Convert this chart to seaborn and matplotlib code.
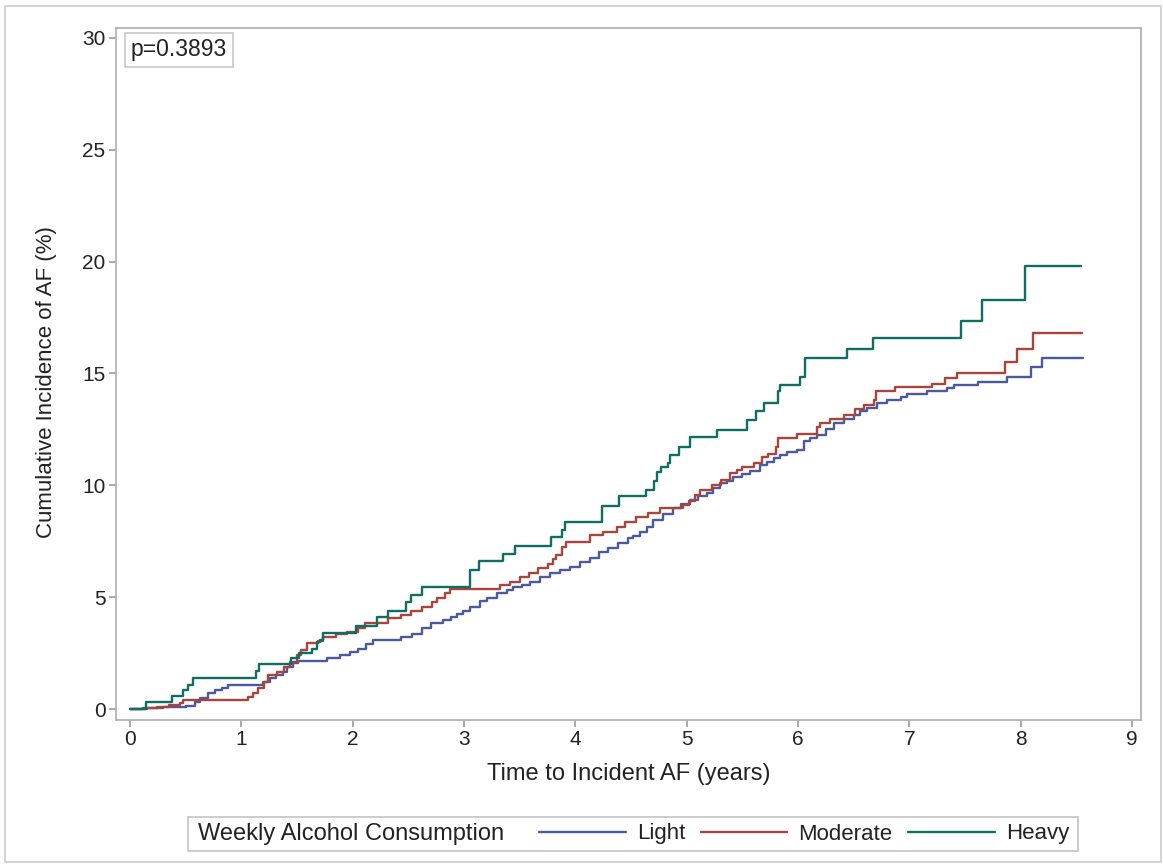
import matplotlib
matplotlib.use("Agg")
import matplotlib.pyplot as plt
from matplotlib.patches import Rectangle
import numpy as np
import pandas as pd
import seaborn as sns

# Kaplan-Meier style cumulative incidence (%) by weekly alcohol consumption
light_t = [0, 0.12, 0.3, 0.5, 0.58, 0.63, 0.7, 0.76, 0.83, 0.88, 1.19, 1.26, 1.31, 1.37,
           1.41, 1.46, 1.51, 1.77, 1.89, 1.98, 2.05, 2.12, 2.18, 2.43, 2.53, 2.62, 2.7,
           2.81, 2.88, 2.94, 2.99, 3.05, 3.14, 3.21, 3.3, 3.39, 3.44, 3.52, 3.59, 3.68,
           3.77, 3.86, 3.95, 4.04, 4.13, 4.21, 4.29, 4.38, 4.47, 4.52, 4.58, 4.64, 4.7,
           4.79, 4.88, 4.95, 5.03, 5.1, 5.18, 5.24, 5.3, 5.36, 5.42, 5.5, 5.57, 5.66,
           5.72, 5.78, 5.84, 5.9, 5.99, 6.05, 6.11, 6.17, 6.25, 6.32, 6.41, 6.5, 6.56,
           6.62, 6.71, 6.8, 6.92, 6.98, 7.16, 7.34, 7.4, 7.62, 7.88, 8.09, 8.19, 8.56]
light_v = [0, 0.05, 0.1, 0.15, 0.3, 0.5, 0.7, 0.85, 0.95, 1.07, 1.2, 1.38, 1.52, 1.65,
           1.88, 2.05, 2.15, 2.28, 2.4, 2.55, 2.7, 2.9, 3.1, 3.2, 3.35, 3.6, 3.85,
           4.0, 4.1, 4.25, 4.4, 4.55, 4.85, 4.95, 5.2, 5.3, 5.45, 5.55, 5.7, 5.9,
           6.1, 6.2, 6.35, 6.55, 6.75, 7.0, 7.2, 7.4, 7.65, 7.75, 7.9, 8.15, 8.45,
           8.7, 9.0, 9.15, 9.35, 9.5, 9.65, 9.9, 10.1, 10.2, 10.35, 10.5, 10.65, 10.9,
           11.05, 11.2, 11.35, 11.5, 11.6, 12.0, 12.1, 12.25, 12.5, 12.8, 12.95, 13.15, 13.3,
           13.45, 13.7, 13.8, 13.95, 14.1, 14.2, 14.35, 14.5, 14.6, 14.85, 15.3, 15.7, 15.7]

moderate_t = [0, 0.15, 0.24, 0.35, 0.45, 0.48, 1.06, 1.1, 1.15, 1.2, 1.24, 1.32, 1.38,
              1.44, 1.5, 1.54, 1.59, 1.69, 1.73, 1.85, 1.95, 2.05, 2.11, 2.32, 2.43,
              2.52, 2.62, 2.71, 2.76, 2.83, 2.87, 3.32, 3.41, 3.5, 3.58, 3.66, 3.75,
              3.8, 3.83, 3.88, 3.92, 4.13, 4.25, 4.37, 4.45, 4.54, 4.65, 4.76, 4.97,
              5.02, 5.07, 5.12, 5.23, 5.31, 5.39, 5.45, 5.5, 5.6, 5.68, 5.73, 5.8, 5.82,
              5.99, 6.17, 6.2, 6.29, 6.41, 6.51, 6.59, 6.68, 6.7, 6.87, 7.2, 7.32, 7.43,
              7.86, 7.97, 8.11, 8.55]
moderate_v = [0, 0.05, 0.1, 0.2, 0.27, 0.4, 0.55, 0.7, 0.95, 1.2, 1.5, 1.65, 1.9,
              2.1, 2.4, 2.65, 2.95, 3.05, 3.2, 3.35, 3.45, 3.6, 3.85, 4.05, 4.2,
              4.4, 4.55, 4.8, 4.95, 5.2, 5.35, 5.55, 5.7, 5.9, 6.1, 6.3, 6.5,
              6.7, 6.9, 7.25, 7.45, 7.8, 7.9, 8.15, 8.35, 8.6, 8.75, 9.0, 9.1,
              9.3, 9.55, 9.8, 10.0, 10.25, 10.55, 10.7, 10.8, 11.0, 11.25, 11.4, 11.7, 12.1,
              12.3, 12.6, 12.8, 12.95, 13.15, 13.4, 13.6, 13.8, 14.2, 14.4, 14.55, 14.8, 15.0,
              15.5, 16.1, 16.8, 16.8]

heavy_t = [0, 0.14, 0.38, 0.48, 0.52, 0.57, 1.13, 1.16, 1.45, 1.52, 1.63, 1.68, 1.71,
           1.73, 2.03, 2.22, 2.32, 2.48, 2.52, 2.62, 3.05, 3.13, 3.35, 3.46, 3.78, 3.88,
           3.91, 4.24, 4.39, 4.63, 4.71, 4.73, 4.77, 4.83, 4.85, 4.93, 5.03, 5.27, 5.54,
           5.62, 5.69, 5.82, 5.84, 6.02, 6.06, 6.44, 6.67, 7.46, 7.65, 8.04, 8.54]
heavy_v = [0, 0.3, 0.6, 0.85, 1.07, 1.38, 1.7, 2.0, 2.3, 2.5, 2.7, 3.0, 3.1,
           3.4, 3.7, 4.1, 4.4, 4.8, 5.1, 5.45, 6.2, 6.6, 6.95, 7.3, 7.7, 8.0,
           8.35, 9.07, 9.5, 9.8, 10.2, 10.6, 10.8, 11.0, 11.35, 11.7, 12.15, 12.47, 12.9,
           13.3, 13.7, 14.2, 14.5, 14.85, 15.7, 16.1, 16.6, 17.35, 18.3, 19.8, 19.8]

groups = ["Light", "Moderate", "Heavy"]
colors = ["#4a5a9c", "#a8443a", "#0f6e62"]

x_ticks = list(range(0, 10))
y_ticks = [0, 5, 10, 15, 20, 25, 30]

df = pd.concat([
    pd.DataFrame({"time": light_t, "ci": light_v, "group": "Light"}),
    pd.DataFrame({"time": moderate_t, "ci": moderate_v, "group": "Moderate"}),
    pd.DataFrame({"time": heavy_t, "ci": heavy_v, "group": "Heavy"}),
], ignore_index=True)

sns.set_style("white")
plt.rcParams["font.family"] = ["Liberation Sans", "DejaVu Sans"]

W, H = 1163, 865
fig = plt.figure(figsize=(W / 100, H / 100), dpi=100)
fig.patch.set_facecolor("white")

def px_rect(l, t, r, b):
    return [l / W, 1 - b / H, (r - l) / W, (b - t) / H]

ax = fig.add_axes(px_rect(116, 28, 1141, 720))

sns.lineplot(data=df, x="time", y="ci", hue="group", hue_order=groups,
             palette=colors, estimator=None, drawstyle="steps-post",
             linewidth=1.7, ax=ax, legend=False)

ax.set_xlim(-0.126, 9.08)
ax.set_ylim(-0.49, 30.44)
ax.set_xticks(x_ticks)
ax.set_yticks(y_ticks)

frame_col = "#b4b4b4"
for sp in ax.spines.values():
    sp.set_color(frame_col)
    sp.set_linewidth(1.3)
ax.tick_params(axis="both", direction="out", length=5, width=1.2, color="#9a9a9a",
               labelsize=15, labelcolor="#222222", pad=2.5,
               bottom=True, left=True)

ax.set_xlabel("Time to Incident AF (years)", fontsize=17, color="#222222", labelpad=10)
ax.set_ylabel("Cumulative Incidence of AF (%)", fontsize=16, color="#222222")
ax.yaxis.set_label_coords(-0.0575, 0.488)

ax.text(0.0145, 0.985, "p=0.3893", transform=ax.transAxes, ha="left", va="top",
        fontsize=16.5, color="#222222",
        bbox=dict(boxstyle="square,pad=0.25", facecolor="white", edgecolor="#c8c8c8", linewidth=1.2))

# Legend row at the bottom
box = px_rect(188, 817, 1078, 851)
fig.patches.append(Rectangle((box[0], box[1]), box[2], box[3], transform=fig.transFigure,
                             facecolor="white", edgecolor="#c8c8c8", linewidth=1.3))
yc = 1 - 834 / H
fig.text(198 / W, yc, "Weekly Alcohol Consumption", ha="left", va="center",
         fontsize=17, color="#222222")
handles = [plt.Line2D([], [], color=c, linewidth=1.7) for c in colors]
fig.legend(handles, groups, loc="center left", bbox_to_anchor=(539 / W, yc),
           ncol=3, frameon=False, fontsize=16, handlelength=3.9, handletextpad=0.5,
           columnspacing=0.7, borderpad=0, borderaxespad=0, labelcolor="#222222")

# Outer frame around the figure
fig.patches.append(Rectangle((5 / W, 3 / H), 1156 / W, 856 / H, transform=fig.transFigure,
                             facecolor="none", edgecolor="#d0d0d0", linewidth=1.3))

fig.savefig("out.png", dpi=100, facecolor="white")
